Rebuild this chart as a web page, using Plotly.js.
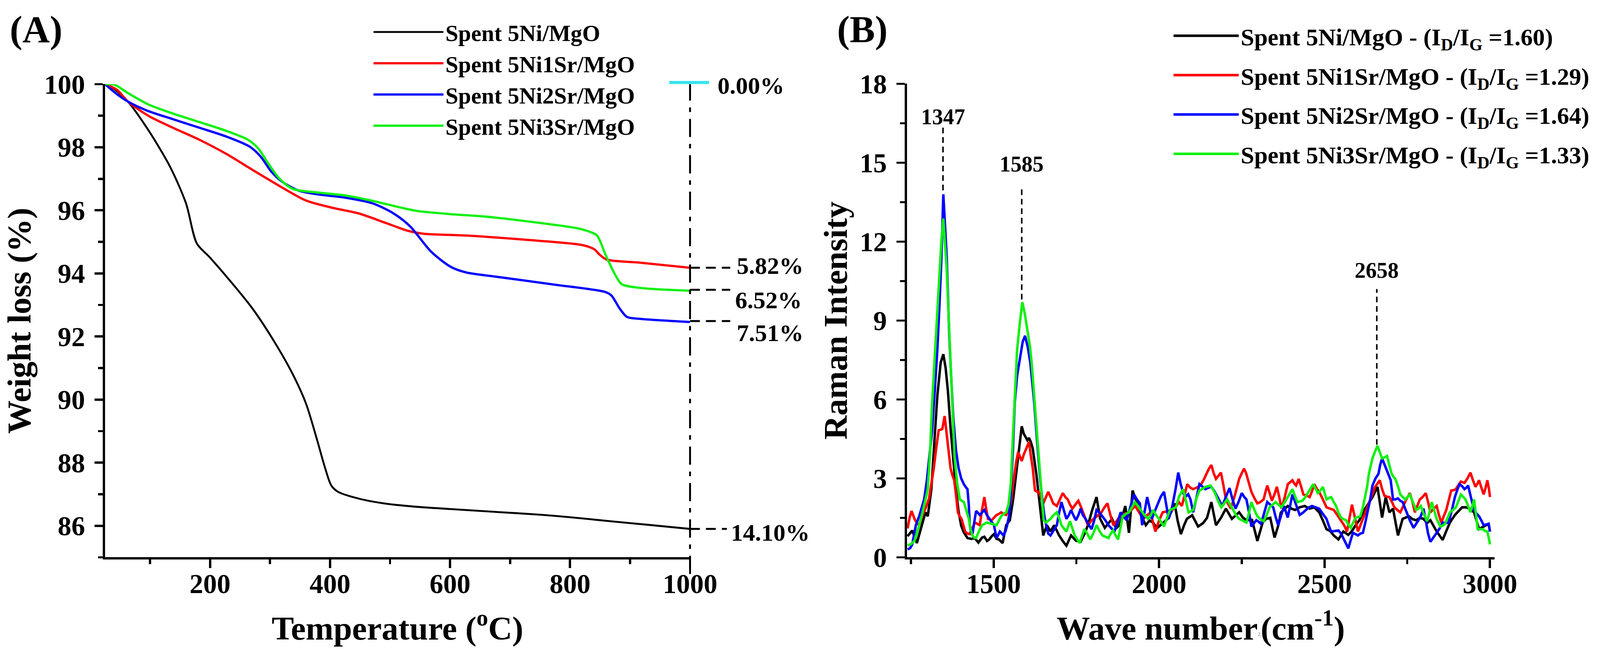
<!DOCTYPE html>
<html>
<head>
<meta charset="utf-8">
<script src="https://cdn.plot.ly/plotly-3.0.1.min.js"></script>
<style>html,body{margin:0;padding:0;background:#fff;overflow:hidden;}</style>
</head>
<body>
<div id="chart"></div>
<script>
// ---------------- DATA ----------------
const seriesNames = ['Spent 5Ni/MgO', 'Spent 5Ni1Sr/MgO', 'Spent 5Ni2Sr/MgO', 'Spent 5Ni3Sr/MgO'];
const ratioLabels = ['1.60', '1.29', '1.64', '1.33'];
const seriesColors = ['#000000', '#ff0000', '#0000ff', '#10f010'];

// (A) TGA
const tgaBlackX = [25, 40, 63, 98, 134, 160, 178, 200, 235, 271, 307, 338, 360, 378, 391, 402, 413, 448, 493, 545, 600, 675, 750, 800, 869, 930, 1000];
const tgaBlackY = [100, 99.85, 99.45, 98.52, 97.36, 96.22, 94.95, 94.5, 93.73, 92.88, 91.84, 90.8, 89.87, 88.75, 87.88, 87.28, 87.08, 86.86, 86.7, 86.6, 86.53, 86.44, 86.35, 86.27, 86.14, 86.03, 85.9];
const tgaRedX = [25, 45, 63, 98, 138, 182, 227, 271, 316, 360, 404, 448, 493, 530, 555, 627, 724, 820, 840, 849, 861, 917, 1000];
const tgaRedY = [100, 99.82, 99.45, 98.99, 98.62, 98.24, 97.79, 97.28, 96.77, 96.31, 96.08, 95.9, 95.6, 95.35, 95.26, 95.2, 95.07, 94.9, 94.77, 94.6, 94.44, 94.34, 94.18];
const tgaBlueX = [25, 45, 63, 94, 138, 182, 227, 267, 285, 302, 320, 347, 382, 426, 471, 506, 533, 569, 602, 627, 675, 772, 859, 869, 883, 895, 917, 1000];
const tgaBlueY = [100, 99.68, 99.45, 99.17, 98.89, 98.62, 98.34, 98.01, 97.69, 97.23, 96.91, 96.63, 96.5, 96.4, 96.22, 95.9, 95.5, 94.68, 94.2, 94.03, 93.9, 93.65, 93.41, 93.3, 92.88, 92.62, 92.56, 92.46];
const tgaGreenX = [25, 41, 63, 98, 138, 182, 227, 263, 280, 298, 316, 338, 382, 426, 471, 515, 545, 600, 660, 750, 810, 830, 845, 859, 874, 886, 917, 1000];
const tgaGreenY = [100, 99.98, 99.72, 99.35, 99.07, 98.8, 98.52, 98.24, 97.97, 97.46, 97.0, 96.68, 96.56, 96.47, 96.3, 96.1, 95.98, 95.88, 95.8, 95.6, 95.44, 95.34, 95.2, 94.6, 94.0, 93.66, 93.54, 93.45];
const lossLabels = ['0.00%', '5.82%', '6.52%', '7.51%', '14.10%'];
const lossLevels = [100, 94.18, 93.48, 92.49, 85.9];
const lossLabelY = [99.95, 94.25, 93.15, 92.12, 85.78];

// (B) Raman
const ramBlackX = [1240,1254,1268,1283,1294,1301,1312,1322,1330,1340,1348,1355,1362,1370,1378,1386,1394,1402,1410,1421,1433,1443,1454,1465,1472,1480,1487,1494,1501,1509,1516,1527,1538,1549,1559,1570,1578,1585,1591,1596,1602,1607,1612,1618,1629,1640,1650,1661,1672,1683,1698,1710,1720,1734,1749,1763,1775,1785,1798,1811,1822,1836,1847,1858,1870,1880,1890,1898,1909,1920,1929,1938,1949,1960,1971,1982,1993,2004,2015,2026,2036,2047,2056,2066,2075,2084,2100,2118,2133,2145,2158,2172,2187,2202,2220,2242,2254,2265,2281,2297,2313,2323,2336,2349,2360,2368,2389,2400,2411,2425,2440,2455,2469,2484,2495,2506,2517,2528,2542,2557,2572,2583,2594,2605,2616,2630,2645,2660,2674,2685,2696,2707,2722,2736,2755,2766,2777,2788,2799,2810,2820,2839,2857,2868,2879,2894,2905,2916,2927,2938,2952,2967,2978,2989,2996,3000];
const ramBlackY = [0.8,1.02,0.54,1.22,1.71,1.56,2.6,4.6,6.15,7.4,7.72,7.2,6.3,4.9,3.6,2.6,1.75,1.2,0.95,0.73,0.7,0.73,0.56,0.75,0.78,0.62,0.68,0.8,0.88,0.7,0.68,0.54,1.22,1.41,2.2,3.37,4.4,4.98,4.7,4.6,4.45,4.54,4.4,4.15,3.17,1.95,0.83,1.22,0.98,1.22,0.83,0.6,0.44,0.83,0.63,0.59,0.9,1.22,1.8,2.29,1.46,1.12,1.3,1.46,1.1,1.22,1.6,1.95,0.93,2.54,2.2,2.05,1.5,1.22,1.4,1.32,1.1,1.22,1.35,1.46,1.7,2.05,1.4,0.88,1.2,1.46,1.6,1.17,1.3,1.5,2.1,1.22,1.5,1.85,1.46,1.71,1.5,1.41,1.42,0.62,1.32,1.46,1.5,0.75,1.2,1.7,1.95,1.85,1.8,1.9,1.95,1.85,1.9,1.71,1.4,1.07,1.0,0.83,0.68,0.98,0.85,1.0,1.22,1.4,1.71,2.0,2.29,2.68,1.51,2.29,1.71,1.85,0.83,1.46,1.56,1.45,1.41,1.5,1.46,1.3,1.41,0.98,0.66,1.0,1.32,1.61,1.75,1.9,1.9,1.85,1.71,1.07,1.15,1.22,1.27,0.98];

const ramRedX = [1240,1246,1252,1261,1268,1275,1285,1294,1305,1312,1319,1326,1334,1340,1345,1352,1359,1365,1370,1376,1381,1387,1392,1398,1403,1409,1414,1421,1428,1436,1443,1451,1458,1465,1472,1478,1483,1494,1501,1509,1516,1523,1530,1538,1545,1552,1557,1563,1568,1574,1580,1585,1591,1596,1602,1607,1612,1618,1625,1630,1636,1643,1650,1658,1665,1672,1680,1691,1700,1709,1716,1724,1731,1738,1747,1756,1763,1771,1778,1785,1796,1807,1816,1826,1835,1844,1853,1862,1873,1884,1896,1909,1920,1928,1940,1953,1964,1975,1982,1989,2000,2011,2025,2040,2052,2060,2069,2078,2085,2094,2103,2114,2125,2135,2143,2150,2158,2165,2172,2180,2187,2195,2202,2210,2217,2230,2242,2250,2257,2263,2268,2274,2279,2288,2297,2306,2316,2322,2327,2334,2341,2349,2356,2363,2370,2380,2389,2396,2403,2409,2414,2418,2422,2429,2436,2446,2455,2462,2469,2477,2484,2495,2506,2517,2528,2539,2550,2560,2568,2576,2583,2592,2601,2608,2616,2627,2638,2646,2653,2660,2667,2674,2681,2690,2696,2704,2711,2720,2729,2738,2747,2758,2766,2773,2781,2788,2797,2806,2813,2820,2830,2839,2846,2853,2860,2868,2876,2883,2890,2897,2905,2912,2918,2923,2932,2941,2948,2956,2962,2967,2974,2981,2987,2992,2997,3000];
const ramRedY = [1.1,1.5,1.76,1.46,1.3,1.22,1.6,1.85,2.24,2.8,3.37,4.1,4.83,4.85,4.88,5.37,4.63,3.9,3.37,3.1,2.93,2.3,1.71,1.55,1.46,1.2,0.98,0.9,0.88,1.1,1.32,1.27,1.22,1.8,2.29,1.8,1.46,1.41,1.5,1.61,1.65,1.71,1.65,1.61,1.8,2.05,2.6,3.17,3.6,4.0,3.8,3.66,3.9,4.05,4.2,4.39,3.9,3.41,2.54,2.5,2.49,2.3,2.05,2.3,2.49,2.3,2.05,1.95,2.2,2.44,2.3,2.2,2.0,1.85,2.0,2.15,1.95,1.71,1.45,1.22,1.4,1.51,1.6,1.71,1.9,2.05,1.6,1.22,1.4,1.61,1.65,1.71,1.85,1.95,1.7,1.46,1.6,1.71,1.3,0.98,1.4,1.71,1.75,1.8,1.95,2.1,1.95,2.4,2.78,2.65,2.59,2.65,2.73,2.95,3.17,3.35,3.51,3.2,2.98,3.1,3.22,2.7,2.2,2.0,1.85,2.4,2.98,3.2,3.37,3.2,2.98,2.7,2.49,2.25,2.05,2.1,2.2,2.5,2.73,2.45,2.15,2.4,2.68,2.3,1.85,2.3,2.78,2.85,2.93,2.8,2.73,2.85,2.98,2.7,2.39,2.35,2.29,2.5,2.78,2.6,2.49,2.2,1.9,1.85,1.8,1.6,1.41,1.2,0.98,1.5,2.0,1.5,0.98,1.2,1.46,1.8,2.2,2.45,2.68,2.8,2.93,2.6,2.34,2.3,2.29,2.1,1.9,1.8,1.71,1.95,2.2,2.44,2.1,1.71,1.95,2.2,2.3,2.44,2.1,1.71,1.85,1.95,1.6,1.32,1.55,1.8,2.2,2.54,2.55,2.59,2.75,2.88,2.85,2.83,3.0,3.22,2.95,2.68,2.8,2.93,2.65,2.39,2.65,2.93,2.6,2.29];

const ramBlueX = [1240,1248,1254,1260,1265,1275,1283,1290,1298,1305,1314,1322,1330,1336,1342,1348,1354,1358,1362,1366,1372,1378,1386,1394,1402,1410,1417,1421,1425,1428,1432,1436,1441,1447,1452,1458,1465,1472,1480,1487,1494,1501,1509,1514,1519,1525,1530,1536,1541,1547,1552,1558,1564,1571,1580,1588,1595,1603,1611,1617,1623,1629,1635,1641,1647,1653,1659,1665,1672,1681,1691,1698,1705,1712,1720,1727,1734,1741,1749,1756,1763,1770,1778,1787,1796,1804,1811,1820,1829,1838,1847,1856,1865,1875,1884,1893,1902,1913,1924,1933,1942,1949,1956,1964,1971,1978,1987,1996,2005,2015,2022,2029,2035,2040,2050,2058,2065,2073,2080,2088,2095,2103,2112,2122,2130,2140,2150,2158,2168,2177,2184,2191,2202,2213,2222,2231,2240,2250,2257,2264,2272,2279,2287,2294,2301,2308,2318,2327,2336,2345,2352,2360,2369,2378,2384,2389,2396,2403,2414,2425,2435,2444,2453,2462,2473,2484,2495,2506,2513,2520,2531,2542,2550,2557,2565,2572,2579,2586,2594,2601,2608,2616,2623,2630,2638,2645,2654,2663,2668,2674,2682,2689,2695,2700,2707,2714,2722,2729,2736,2742,2747,2758,2769,2776,2784,2792,2799,2806,2813,2820,2830,2839,2848,2857,2866,2875,2885,2894,2901,2908,2916,2923,2929,2934,2943,2952,2960,2967,2974,2981,2989,2996,3000];
const ramBlueY = [0.3,0.35,0.49,0.9,1.22,1.56,1.9,2.2,2.9,3.66,4.8,6.3,7.9,9.5,11.3,13.8,12.6,11.5,10.0,8.4,6.8,5.33,4.1,3.4,3.0,2.78,2.65,2.59,2.0,1.22,0.95,0.88,1.3,1.76,1.7,1.61,1.7,1.8,1.6,1.46,1.35,1.22,0.73,0.85,0.98,0.9,0.83,1.0,1.22,1.6,2.44,4.0,5.9,6.9,7.6,8.2,8.42,8.0,7.39,6.7,5.84,4.8,3.79,2.9,2.24,1.6,1.21,0.9,0.83,1.0,1.22,1.7,2.1,1.8,1.46,1.6,1.8,1.6,1.41,1.6,1.85,1.6,1.46,1.25,1.07,1.4,1.8,1.7,1.56,1.4,1.22,1.1,0.98,1.35,1.71,1.55,1.41,1.9,2.39,2.2,2.05,1.22,1.7,2.29,1.9,1.46,1.75,2.05,2.3,2.49,2.0,1.46,1.7,1.95,2.6,3.22,2.8,2.44,2.3,2.4,2.2,1.71,2.2,2.78,2.7,2.59,2.65,2.68,2.5,2.29,2.1,1.95,2.3,2.63,2.2,1.85,2.1,2.44,2.3,2.2,1.7,1.17,1.3,1.41,1.35,1.27,1.7,2.1,2.0,1.9,1.55,1.22,1.6,1.95,1.7,1.51,1.95,2.39,2.0,1.61,1.7,1.8,1.9,1.95,1.9,1.85,1.65,1.46,1.2,0.98,1.0,1.02,0.9,0.73,0.5,0.34,0.65,0.93,0.88,0.83,0.9,0.93,1.3,1.71,2.2,2.73,3.0,3.17,3.5,3.76,3.5,3.31,3.1,2.93,2.2,2.2,2.24,2.15,2.1,1.9,1.71,1.4,1.12,1.25,1.41,1.6,1.85,1.4,0.9,0.59,0.75,0.93,1.1,1.32,1.3,1.32,1.8,2.29,2.55,2.78,2.7,2.59,2.65,2.73,2.25,1.8,1.65,1.56,1.4,1.22,1.25,1.27,0.98];

const ramGreenX = [1240,1250,1261,1268,1275,1283,1290,1296,1301,1308,1314,1322,1330,1336,1342,1348,1353,1358,1364,1370,1376,1382,1390,1398,1404,1410,1417,1425,1430,1436,1441,1447,1456,1465,1472,1479,1486,1494,1501,1509,1516,1523,1530,1538,1545,1552,1558,1564,1571,1580,1587,1595,1603,1610,1615,1621,1627,1633,1639,1645,1651,1658,1665,1672,1681,1691,1698,1705,1712,1720,1726,1731,1738,1745,1752,1760,1767,1774,1783,1792,1801,1811,1820,1829,1838,1847,1854,1861,1868,1876,1883,1890,1900,1909,1918,1927,1936,1945,1956,1967,1975,1982,1991,2000,2008,2015,2024,2033,2042,2051,2060,2068,2073,2080,2089,2096,2103,2112,2122,2131,2140,2148,2155,2162,2169,2178,2188,2197,2206,2215,2224,2233,2242,2253,2264,2272,2279,2288,2297,2306,2316,2325,2334,2343,2352,2361,2370,2380,2389,2396,2403,2410,2418,2425,2433,2440,2447,2456,2466,2473,2480,2488,2495,2500,2506,2513,2520,2528,2535,2542,2550,2557,2565,2572,2579,2586,2594,2601,2608,2616,2623,2629,2634,2640,2645,2652,2660,2667,2674,2681,2689,2696,2703,2709,2714,2722,2729,2736,2744,2751,2758,2767,2777,2784,2791,2800,2810,2817,2824,2831,2839,2845,2850,2857,2864,2872,2879,2888,2897,2905,2912,2919,2926,2934,2941,2947,2952,2958,2963,2970,2978,2985,2992,2997,3000];
const ramGreenY = [0.45,0.5,0.63,0.9,1.22,1.6,1.95,2.3,2.6,4.0,5.84,7.7,9.44,10.8,12.0,12.88,12.0,11.0,9.2,7.39,5.5,3.79,2.8,2.2,2.15,2.1,1.8,1.46,1.1,0.83,0.75,0.73,1.0,1.22,1.27,1.32,1.3,1.27,1.25,1.22,1.4,1.56,1.65,1.71,2.0,2.8,4.5,6.0,7.9,9.0,9.7,9.2,8.62,8.0,7.39,6.4,5.33,4.3,3.27,2.3,1.42,1.32,1.4,1.46,1.6,1.71,1.5,1.22,1.1,0.98,1.2,1.37,1.1,0.83,0.7,0.54,0.8,1.07,0.9,0.68,0.9,1.22,1.0,0.83,0.78,0.73,0.9,1.02,0.85,0.68,1.1,1.56,1.65,1.71,1.9,2.1,1.95,1.8,1.6,1.46,1.6,1.8,1.6,1.46,1.3,1.17,1.5,1.8,1.85,1.9,2.3,2.5,2.59,2.2,1.71,1.75,1.8,2.2,2.54,2.6,2.68,2.7,2.73,2.6,2.44,2.15,1.9,2.05,2.2,2.0,1.8,1.6,1.46,1.4,1.32,1.7,2.1,1.8,1.56,1.45,1.37,1.6,1.9,2.0,2.1,2.0,1.9,2.1,2.29,2.45,2.59,2.35,2.1,2.12,2.15,2.25,2.39,2.6,2.78,2.6,2.44,2.55,2.68,2.45,2.2,2.25,2.29,2.1,1.95,1.7,1.51,1.45,1.41,1.25,1.12,1.3,1.51,1.53,1.56,1.9,2.29,2.7,3.17,3.5,3.76,4.0,4.24,4.0,3.76,3.8,3.85,3.5,3.17,3.05,2.98,2.7,2.39,2.3,2.2,2.3,2.39,2.1,1.8,1.85,1.95,1.65,1.37,1.7,2.1,1.8,1.46,1.3,1.17,1.2,1.27,1.5,1.71,1.8,1.9,2.15,2.39,2.3,2.2,1.95,1.71,1.95,2.2,1.6,1.07,1.07,1.07,1.0,0.98,0.7,0.49];

const peakPositions = [1347, 1585, 2658];
const peakLabels = ['1347', '1585', '2658'];
const peakLineBottom = [13.95, 9.8, 4.28];
const peakLineTop = [16.35, 14.1, 10.2];
const peakLabelY = [16.75, 14.95, 10.9];

// ---------------- LAYOUT HELPERS ----------------
// Reference design size; the figure is fitted to the actual viewport.
const RW = 4220, RH = 1720;
const VW = window.innerWidth || RW, VH = window.innerHeight || RH;
const S = Math.min(VW / RW, VH / RH);
const W = Math.floor(RW * S), H = Math.floor(RH * S);
const z = v => v * S;                 // size scaling (fonts, widths)
const px = v => v / RW;               // reference x pixel -> paper fraction
const py = v => 1 - v / RH;           // reference y pixel -> paper fraction
const FONT = 'Liberation Serif, Times New Roman, serif';
const chartDiv = document.getElementById('chart');
chartDiv.style.width = W + 'px';
chartDiv.style.height = H + 'px';

function minorStyle(dt) {
  return {ticks: 'outside', ticklen: z(12), tickwidth: z(6), tickcolor: '#000', dtick: dt, tick0: 0, showgrid: false};
}
function axisStyle(extra) {
  return Object.assign({
    showline: true, linecolor: '#000', linewidth: z(6),
    ticks: 'outside', ticklen: z(22), tickwidth: z(6), tickcolor: '#000',
    showgrid: false, zeroline: false, fixedrange: true,
    tickfont: {family: FONT, size: z(72), weight: 'bold', color: '#000'},
  }, extra);
}

const tgaX = [tgaBlackX, tgaRedX, tgaBlueX, tgaGreenX];
const tgaY = [tgaBlackY, tgaRedY, tgaBlueY, tgaGreenY];
const ramX = [ramBlackX, ramRedX, ramBlueX, ramGreenX];
const ramY = [ramBlackY, ramRedY, ramBlueY, ramGreenY];

const traces = [];
for (let i = 0; i < 4; i++) {
  traces.push({
    type: 'scatter', mode: 'lines', x: tgaX[i], y: tgaY[i], xaxis: 'x', yaxis: 'y',
    name: seriesNames[i], legend: 'legend',
    line: {color: seriesColors[i], width: z(i === 0 ? 5 : 6), shape: 'spline', smoothing: 0.8},
    hoverinfo: 'skip'
  });
}
for (let i = 0; i < 4; i++) {
  traces.push({
    type: 'scatter', mode: 'lines', x: ramX[i], y: ramY[i], xaxis: 'x2', yaxis: 'y2',
    name: seriesNames[i] + ' - (I<sub>D</sub>/I<sub>G</sub> =' + ratioLabels[i] + ')',
    legend: 'legend2', legendgroup: 'g' + i,
    line: {color: seriesColors[i], width: z(6.5)},
    hoverinfo: 'skip'
  });
}

const dashStr = (a) => a.map(v => z(v).toFixed(1) + 'px').join(',');
const shapes = [];
// vertical dash-dot at 1000 C
shapes.push({type: 'line', xref: 'x domain', yref: 'y domain', x0: 1, x1: 1, y0: -0.0353, y1: 1.0,
  line: {color: '#000', width: z(5), dash: dashStr([48, 18, 12, 18])}});
// cyan 0.00% marker
shapes.push({type: 'line', xref: 'x domain', yref: 'y domain', x0: 0.9644, x1: 1.0324, y0: 1.0035, y1: 1.0035,
  line: {color: '#33e3ee', width: z(8)}});
// dashed level lines
for (let i = 1; i < lossLevels.length; i++) {
  shapes.push({type: 'line', xref: 'x domain', yref: 'y', x0: 1, x1: i === 4 ? 1.063 : 1.0687,
    y0: lossLevels[i], y1: lossLevels[i], line: {color: '#000', width: z(5), dash: dashStr([26, 16])}});
}
// Raman peak markers
for (let i = 0; i < peakPositions.length; i++) {
  shapes.push({type: 'line', xref: 'x2', yref: 'y2', x0: peakPositions[i], x1: peakPositions[i],
    y0: peakLineBottom[i], y1: peakLineTop[i], line: {color: '#000', width: z(4), dash: dashStr([15, 10])}});
}

const lossLabelX = [1891, 1941, 1937, 1941, 1926];
const annotations = [
  {text: '(A)', xref: 'paper', yref: 'paper', x: px(95), y: py(78), xanchor: 'center', yanchor: 'middle', showarrow: false,
   font: {family: FONT, size: z(100), weight: 'bold', color: '#000'}},
  {text: '(B)', xref: 'paper', yref: 'paper', x: px(2274), y: py(78), xanchor: 'center', yanchor: 'middle', showarrow: false,
   font: {family: FONT, size: z(100), weight: 'bold', color: '#000'}},
];
for (let i = 0; i < lossLabels.length; i++) {
  annotations.push({text: lossLabels[i], xref: 'paper', yref: 'y', x: px(lossLabelX[i]), y: lossLabelY[i],
    xanchor: 'left', yanchor: 'middle', showarrow: false,
    font: {family: FONT, size: z(64), weight: 'bold', color: '#000'}});
}
for (let i = 0; i < peakPositions.length; i++) {
  annotations.push({text: peakLabels[i], xref: 'x2', yref: 'y2', x: peakPositions[i], y: peakLabelY[i],
    xanchor: 'center', yanchor: 'middle', showarrow: false,
    font: {family: FONT, size: z(58), weight: 'bold', color: '#000'}});
}

const titleFont = {family: FONT, size: z(88), weight: 'bold', color: '#000'};

const layout = {
  width: W, height: H,
  margin: {l: 0, r: 0, t: 0, b: 0, pad: 0, autoexpand: false},
  paper_bgcolor: '#fff', plot_bgcolor: '#fff',
  font: {family: FONT, size: z(60), weight: 'bold', color: '#000'},
  showlegend: true,
  xaxis: axisStyle({domain: [px(277), px(1820)], range: [25, 1000], anchor: 'y',
    tick0: 0, dtick: 200, ticklabelstandoff: Math.round(z(-20)), minor: minorStyle(100),
    title: {text: 'Temperature (<sup>o</sup>C)', font: titleFont, standoff: z(48)}}),
  yaxis: axisStyle({domain: [py(1470), py(222)], range: [85, 100], anchor: 'x',
    tick0: 0, dtick: 2, ticklabelstandoff: Math.round(z(10)), minor: minorStyle(1),
    title: {text: 'Weight loss (%)', font: titleFont, standoff: z(8)}}),
  xaxis2: axisStyle({domain: [px(2392), px(3942)], range: [1238, 3014], anchor: 'y2',
    tick0: 0, dtick: 500, ticklabelstandoff: Math.round(z(-20)), minor: minorStyle(250),
    title: {text: 'Wave number<span style="font-size:' + Math.round(z(22)) + 'px;color:#b0b0b0"><sup>2</sup></span>(cm<sup>-1</sup>)', font: titleFont, standoff: z(48)}}),
  yaxis2: axisStyle({domain: [py(1470), py(221)], range: [0, 18], anchor: 'x2',
    tick0: 0, dtick: 3, ticklabelstandoff: Math.round(z(10)), minor: minorStyle(1.5),
    title: {text: 'Raman Intensity', font: titleFont, standoff: z(6)}}),
  legend: {x: px(980), xanchor: 'left', y: py(38), yanchor: 'top', bgcolor: 'rgba(0,0,0,0)',
    font: {family: FONT, size: z(61), weight: 'bold', color: '#000'}, itemwidth: Math.round(z(184)), traceorder: 'normal',
    tracegroupgap: 0},
  legend2: {x: px(3090), xanchor: 'left', y: py(46), yanchor: 'top', bgcolor: 'rgba(0,0,0,0)',
    font: {family: FONT, size: z(64), weight: 'bold', color: '#000'}, itemwidth: Math.round(z(172)), traceorder: 'grouped',
    tracegroupgap: Math.round(z(17))},
  shapes: shapes,
  annotations: annotations
};

Plotly.newPlot('chart', traces, layout, {staticPlot: true, displayModeBar: false});
</script>
</body>
</html>
